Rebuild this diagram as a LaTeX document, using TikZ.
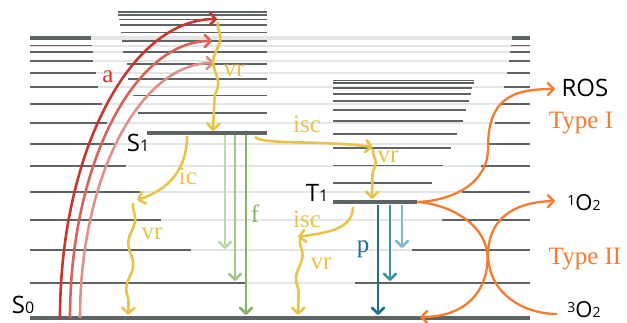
\documentclass[tikz,border=0pt]{standalone}
\usepackage{fontspec}
\setmainfont{Liberation Serif}
\newfontfamily\statefont{Open Sans}
\usetikzlibrary{arrows.meta,decorations.pathmorphing}

\definecolor{lvl}{HTML}{5E6464}
\definecolor{lvlbg}{HTML}{E4E5E5}
\definecolor{redD}{HTML}{C8372E}
\definecolor{redM}{HTML}{D6625A}
\definecolor{redL}{HTML}{E0908A}
\definecolor{yel}{HTML}{E8C34A}
\definecolor{grnD}{HTML}{87B263}
\definecolor{grnM}{HTML}{A4C687}
\definecolor{grnL}{HTML}{BFD8A9}
\definecolor{bluD}{HTML}{1D7090}
\definecolor{bluM}{HTML}{3E90AC}
\definecolor{bluL}{HTML}{7DB8CB}
\definecolor{orng}{HTML}{F47B30}

\newcommand\lowdig[1]{{\fontsize{16}{16}\selectfont #1}}
\newcommand\smalldig[1]{{\fontsize{14}{14}\selectfont #1}}
\newcommand\highdig[1]{\raisebox{5.5pt}{\fontsize{14}{14}\selectfont #1}}

\begin{document}
\begin{tikzpicture}[x=1pt,y=-1pt,
  level/.style={draw=lvl, line width=1.6pt},
  ground/.style={draw=lvl, line width=4pt},
  bgline/.style={draw=lvlbg, line width=2pt},
  trans/.style={line width=2.6pt, -{Straight Barb[length=6pt,width=12pt,round]}},
  otrans/.style={draw=orng, line width=2.3pt, -{Straight Barb[length=6pt,width=12pt,round]}},
  wavy/.style={decorate, decoration={snake, amplitude=3pt, segment length=46pt, pre length=2pt, post length=10pt}},
  shortwavy/.style={decorate, decoration={snake, amplitude=3pt, segment length=38pt, pre length=2pt, post length=10pt}},
  statelbl/.style={font=\statefont\fontsize{24}{24}\selectfont, anchor=base, inner sep=0pt},
  oxlbl/.style={font=\statefont\fontsize{22}{22}\selectfont, anchor=base, inner sep=0pt},
  proclbl/.style={font=\fontsize{25}{25}\selectfont, anchor=base, inner sep=0pt}]
\useasboundingbox (0,0) rectangle (627,323);

% S0 vibrational ladder: faint full-width lines, dark ends on both walls
\foreach \y in {37,39.2,45.7,52.3,61,73,87,104,123,144,166,192,220,250,283}
  \draw[bgline] (30,\y) -- (530,\y);
\foreach \y/\l/\r in {37/91/512, 39.2/91/512, 45.7/92/511, 52.3/93/510, 61/93/509,
    73/96/507, 87/98/504, 104/102/500, 123/107/495, 144/114/489, 166/126/481,
    192/140/462, 220/161/442, 250/191/412, 283/245/355} {
  \draw[level] (30,\y) -- (\l,\y);
  \draw[level] (\r,\y) -- (530,\y);
}
\draw[ground] (30,318) -- (530,318);

% S1 manifold
\foreach \y/\l in {12.3/118, 14.8/118, 19.7/119, 25.3/120, 32.5/121, 41.2/122,
    52.2/123, 64.3/127, 79/128, 95.7/133, 113.3/138}
  \draw[level] (\l,\y) -- (267,\y);
\draw[ground] (147,133.3) -- (267,133.3);

% T1 manifold
\foreach \y/\r in {80.7/474, 82.9/474, 88.3/472, 94.2/471, 100.8/469, 109.8/466,
    120.8/463, 134/457, 148/451, 165.5/443, 183/432}
  \draw[level] (333,\y) -- (\r,\y);
\draw[ground] (333,202) -- (417,202);

% end points of the transitions
\coordinate (a1s) at (60,318);  \coordinate (a1e) at (217,19);
\coordinate (a2s) at (70,318);  \coordinate (a2e) at (212,41);
\coordinate (a3s) at (80,318);  \coordinate (a3e) at (214,63);
\coordinate (vr1s) at (218,22); \coordinate (vr1e) at (213,131);
\coordinate (ics) at (187,136); \coordinate (ice) at (137,200);
\coordinate (vr2s) at (133,203); \coordinate (vr2e) at (128,315);
\coordinate (f1s) at (225,135); \coordinate (f1e) at (225,249);
\coordinate (f2s) at (235,135); \coordinate (f2e) at (235,281);
\coordinate (f3s) at (246,135); \coordinate (f3e) at (246,315);
\coordinate (isc1s) at (255,137); \coordinate (isc1e) at (373,147);
\coordinate (vr3s) at (373,149); \coordinate (vr3e) at (372,199);
\coordinate (isc2s) at (353,207); \coordinate (isc2e) at (298,237);
\coordinate (vr4s) at (300,239); \coordinate (vr4e) at (298,315);
\coordinate (p1s) at (378,205); \coordinate (p1e) at (378,315);
\coordinate (p2s) at (390,205); \coordinate (p2e) at (390,281);
\coordinate (p3s) at (402,205); \coordinate (p3e) at (402,248);
\coordinate (t1end) at (417,202);
\coordinate (rosmid) at (488,148); \coordinate (rosin) at (555,89);
\coordinate (meetL) at (487.5,258); \coordinate (s0in) at (420,317);
\coordinate (oxout) at (557,314); \coordinate (meetR) at (488,255);
\coordinate (oxin) at (555,201);

% absorption
\draw[trans, redL] (a3s) .. controls (80,177) and (140,63) .. (a3e);
\draw[trans, redM] (a2s) .. controls (70,165) and (134,41) .. (a2e);
\draw[trans, redD] (a1s) .. controls (60,153) and (130,19) .. (a1e);

% vibrational relaxation and crossings
\draw[trans, yel, wavy] (vr1s) -- (vr1e);
\draw[trans, yel] (ics) .. controls (187,170) and (168,190) .. (ice);
\draw[trans, yel, wavy] (vr2s) -- (vr2e);
\draw[trans, yel] (isc1s) .. controls (262,145) and (320,140) .. (isc1e);
\draw[trans, yel, shortwavy] (vr3s) -- (vr3e);
\draw[trans, yel] (isc2s) .. controls (353,231) and (322,233) .. (isc2e);
\draw[trans, yel, wavy] (vr4s) -- (vr4e);

% fluorescence
\draw[trans, grnL] (f1s) -- (f1e);
\draw[trans, grnM] (f2s) -- (f2e);
\draw[trans, grnD] (f3s) -- (f3e);

% phosphorescence
\draw[trans, bluL] (p3s) -- (p3e);
\draw[trans, bluM] (p2s) -- (p2e);
\draw[trans, bluD] (p1s) -- (p1e);

% photosensitiser reactions
\draw[otrans] (t1end) .. controls (450,201) and (488,185) .. (rosmid)
  .. controls (488,100) and (510,89) .. (rosin);
\draw[otrans] (t1end) .. controls (450,204) and (487.5,225) .. (meetL)
  .. controls (487.5,292) and (465,317) .. (s0in);
\draw[otrans] (oxout) .. controls (525,314) and (489,295) .. (meetR)
  .. controls (488,222) and (510,202) .. (oxin);

% labels
\node[proclbl, redD] (la) at (108,83) {a};
\node[proclbl, yel] (lvr1) at (234,77) {vr};
\node[proclbl, yel] (lic) at (188,185) {ic};
\node[proclbl, yel] (lvr2) at (152,240) {vr};
\node[proclbl, grnD] (lf) at (255,223) {f};
\node[proclbl, yel] (lisc1) at (307,133) {isc};
\node[proclbl, yel] (lvr3) at (388,163) {vr};
\node[proclbl, yel] (lisc2) at (307,228) {isc};
\node[proclbl, yel] (lvr4) at (321,270) {vr};
\node[proclbl, bluD] (lp) at (363,253) {p};
\node[proclbl, orng] (ltype1) at (581,129) {Type I};
\node[proclbl, orng] (ltype2) at (585,265) {Type II};

\node[statelbl] (ls0) at (23,313) {S\lowdig{0}};
\node[statelbl] (ls1) at (138,152) {S\lowdig{1}};
\node[statelbl] (lt1) at (317,202) {T\lowdig{1}};
\node[statelbl] (lros) at (585,97) {ROS};
\node[oxlbl] (lo2s) at (584,211) {\highdig{1}O\smalldig{2}};
\node[oxlbl] (lo2t) at (584,318) {\highdig{3}O\smalldig{2}};
\end{tikzpicture}
\end{document}
